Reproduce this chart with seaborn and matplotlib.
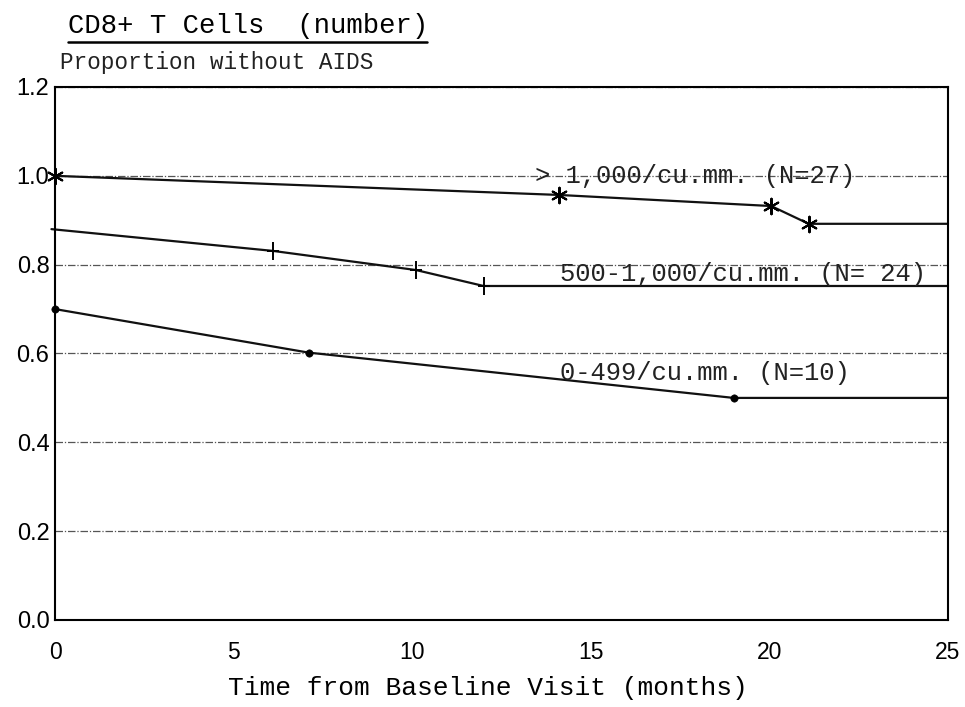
import matplotlib
matplotlib.use("Agg")
import matplotlib.pyplot as plt
import seaborn as sns
import pandas as pd
from matplotlib.lines import Line2D

# ---- data ----
months_gt1000 = [0.0, 14.1, 20.05, 21.1]
surv_gt1000 = [1.0, 0.957, 0.932, 0.892]
months_mid = [6.1, 10.1, 12.0]
surv_mid = [0.831, 0.788, 0.752]
start_mid = 0.88
months_low = [0.0, 7.1, 19.0]
surv_low = [0.70, 0.602, 0.50]
follow_end = 25.0

labels = ["> 1,000/cu.mm. (N=27)", "500-1,000/cu.mm. (N= 24)", "0-499/cu.mm. (N=10)"]
label_pos = [(13.45, 1.0), (14.15, 0.78), (14.15, 0.555)]
xticks = [0, 5, 10, 15, 20, 25]
yticks = [0.0, 0.2, 0.4, 0.6, 0.8, 1.0, 1.2]

sns.set_theme(style="white")
plt.rcParams["font.family"] = ["Liberation Mono", "DejaVu Sans Mono"]

fig = plt.figure(figsize=(9.65, 7.07), dpi=100)
ax = fig.add_axes([55 / 965, 1 - 620 / 707, (948 - 55) / 965, (620 - 87) / 707])

# curve tables (line through events, extended to end of follow-up)
lines = pd.concat([
    pd.DataFrame({"t": months_gt1000 + [follow_end], "s": surv_gt1000 + [surv_gt1000[-1]], "g": "a"}),
    pd.DataFrame({"t": [-0.1] + months_mid + [follow_end], "s": [start_mid] + surv_mid + [surv_mid[-1]], "g": "b"}),
    pd.DataFrame({"t": months_low + [follow_end], "s": surv_low + [surv_low[-1]], "g": "c"}),
])
sns.lineplot(data=lines, x="t", y="s", hue="g", palette={"a": "#111111", "b": "#111111", "c": "#111111"},
             units="g", estimator=None, sort=False, linewidth=1.6, legend=False, ax=ax)
for ln in ax.lines:
    ln.set_clip_on(False)

m1 = pd.DataFrame({"t": months_gt1000, "s": surv_gt1000})
m2 = pd.DataFrame({"t": months_mid, "s": surv_mid})
m3 = pd.DataFrame({"t": months_low, "s": surv_low})
sns.scatterplot(data=m1, x="t", y="s", marker=(6, 2, 0), s=125, color="black", linewidth=1.5, ax=ax, clip_on=False, zorder=5)
sns.scatterplot(data=m2, x="t", y="s", marker="|", s=150, color="black", linewidth=1.4, ax=ax, clip_on=False, zorder=5)
sns.scatterplot(data=m2, x="t", y="s", marker="_", s=70, color="black", linewidth=1.4, ax=ax, clip_on=False, zorder=5)
sns.scatterplot(data=m3, x="t", y="s", marker="o", s=28, color="black", edgecolor="black", ax=ax, clip_on=False, zorder=5)

for lab, (x, y) in zip(labels, label_pos):
    ax.text(x, y, lab, fontsize=18.4, va="center", ha="left", color="#222222")

ax.set_xlim(0, 25)
ax.set_ylim(0, 1.2)
ax.set_xticks(xticks)
ax.set_yticks(yticks)
ax.set_xticklabels([str(v) for v in xticks], fontfamily="Liberation Sans", fontsize=16.5)
ax.set_yticklabels([f"{v:.1f}" for v in yticks], fontfamily="Liberation Sans", fontsize=17)
ax.tick_params(axis="x", direction="in", length=8, width=1.2, pad=15, colors="black")
ax.tick_params(axis="y", length=0, pad=4, colors="black")
ax.yaxis.grid(True, linestyle=(0, (6, 1.5, 1, 1.5)), linewidth=0.9, color="#555555")
ax.xaxis.grid(False)
for sp in ax.spines.values():
    sp.set_visible(True)
    sp.set_color("black")
    sp.set_linewidth(1.5)
ax.set_xlabel("Time from Baseline Visit (months)", fontsize=18.9, color="black")
ax.xaxis.set_label_coords((488 - 55) / 893, -(688 - 620) / 533)
ax.xaxis.label.set_va("center")
ax.set_ylabel("")

fig.text(68 / 965, 1 - 26 / 707, "CD8+ T Cells  (number)", fontsize=19.6, va="center", ha="left", color="black")
fig.add_artist(Line2D([68 / 965, 427 / 965], [1 - 42 / 707, 1 - 42 / 707], color="black", linewidth=1.8))
fig.text(60 / 965, 1 - 63 / 707, "Proportion without AIDS", fontsize=16.3, va="center", ha="left",
         fontfamily=["Liberation Mono"], color="#222222")

fig.savefig("out.png", dpi=100)
